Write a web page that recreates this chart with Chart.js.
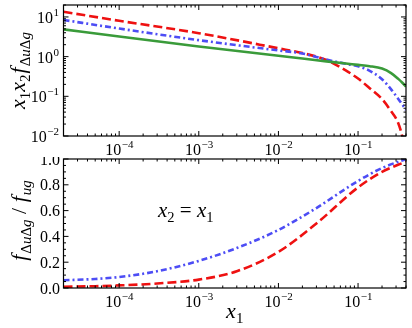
<!DOCTYPE html>
<html>
<head>
<meta charset="utf-8">
<script src="https://cdn.jsdelivr.net/npm/chart.js@4.4.0/dist/chart.umd.min.js"></script>
<style>
  html, body { margin: 0; padding: 0; background: #fff; }
  #wrap { position: relative; width: 412px; height: 328px; }
  canvas { position: absolute; left: 0; }
  #topChart { top: 0; }
  #botChart { top: 157px; }
  .warm { position: absolute; left: -1000px; top: 0; font-family: "Liberation Serif"; }
</style>
</head>
<body>
<span class="warm">10 <i>xf</i> ΔuΔg</span>
<div id="wrap">
  <canvas id="topChart" width="412" height="157"></canvas>
  <canvas id="botChart" width="412" height="171"></canvas>
</div>
<script>
// values
const xTop = [2e-5, 1e-4, 1e-3, 1e-2, 0.02, 0.04, 0.07, 0.1, 0.14, 0.2, 0.26, 0.32, 0.36, 0.4];
const redTop = [13.5, 8.0, 3.9, 1.62, 1.23, 0.82, 0.45, 0.28, 0.16, 0.085, 0.042, 0.021, 0.0095, 0.003];
const blueTop = [8.4, 5.1, 2.6, 1.43, 1.2, 0.84, 0.66, 0.57, 0.44, 0.27, 0.15, 0.086, 0.062, 0.045];
const greenTop = [4.87, 3.2, 1.8, 1.05, 0.9, 0.76, 0.67, 0.62, 0.575, 0.5, 0.385, 0.275, 0.22, 0.175];

const xBot = [2e-5, 5e-5, 1e-4, 3e-4, 1e-3, 3e-3, 0.01, 0.03, 0.1, 0.2, 0.4];
const blueBot = [0.06, 0.07, 0.085, 0.13, 0.21, 0.31, 0.45, 0.62, 0.83, 0.93, 1.0];
const redBot = [0.01, 0.014, 0.02, 0.035, 0.065, 0.13, 0.28, 0.50, 0.78, 0.90, 0.98];

const xExps = [-4, -3, -2, -1];        // x tick labels, 10^n
const yTopExps = [1, 0, -1, -2];       // top y tick labels, 10^n
const yBotTicks = [0, 0.2, 0.4, 0.6, 0.8, 1.0];

const RED = "#ee1111";
const BLUE = "#4d4df5";
const GREEN = "#3a9b3a";
const FONT = '"Liberation Serif", "DejaVu Serif", serif';

function series(xs, ys, color, dash) {
  return {
    data: xs.map((x, i) => ({ x, y: ys[i] })),
    borderColor: color,
    borderWidth: 2.6,
    borderDash: dash,
    pointRadius: 0,
    fill: false,
    cubicInterpolationMode: "monotone",
    clip: 0
  };
}

function logTicks(min, max) {
  const out = [];
  for (let e = Math.floor(Math.log10(min)); e <= Math.ceil(Math.log10(max)); e++) {
    for (let m = 1; m <= 9; m++) {
      const v = m * Math.pow(10, e);
      if (v >= min * 0.999 && v <= max * 1.001) out.push({ v, major: m === 1 });
    }
  }
  return out;
}

function linTicks(min, max, step, majorEvery) {
  const out = [];
  const n = Math.round((max - min) / step);
  for (let i = 0; i <= n; i++) out.push({ v: min + i * step, major: i % majorEvery === 0 });
  return out;
}

function pow10(ctx, exp, x, y, align) {
  const sup = exp < 0 ? "\u2212" + (-exp) : String(exp);
  ctx.font = "16px " + FONT;
  const wb = ctx.measureText("10").width;
  ctx.font = "11px " + FONT;
  const ws = ctx.measureText(sup).width;
  const x0 = align === "right" ? x - wb - ws - 0.5 : x - (wb + ws) / 2;
  ctx.textAlign = "left";
  ctx.textBaseline = "alphabetic";
  ctx.font = "16px " + FONT;
  ctx.fillText("10", x0, y);
  ctx.font = "11px " + FONT;
  ctx.fillText(sup, x0 + wb + 0.5, y - 7);
}

// runs: [text, font, dy, extra gap]
function mathText(ctx, runs, x, y, align) {
  let w = 0;
  runs.forEach(r => { ctx.font = r[1]; w += ctx.measureText(r[0]).width + (r[3] || 0); });
  let cx = align === "center" ? x - w / 2 : x;
  ctx.textAlign = "left";
  ctx.textBaseline = "alphabetic";
  runs.forEach(r => {
    ctx.font = r[1];
    ctx.fillText(r[0], cx, y + r[2]);
    cx += ctx.measureText(r[0]).width + (r[3] || 0);
  });
}

const BIG = "italic 22px " + FONT;
const BIGR = "22px " + FONT;
const SUB = "italic 15px " + FONT;
const SUBR = "15px " + FONT;

function axesPlugin(cfg) {
  return {
    id: "axesDeco",
    afterDraw(chart) {
      const ctx = chart.ctx;
      const a = chart.chartArea;
      const xs = chart.scales.x, ys = chart.scales.y;
      ctx.save();
      ctx.strokeStyle = "#000";
      ctx.fillStyle = "#000";
      ctx.lineWidth = 1;
      ctx.beginPath();
      cfg.xTicks.forEach(t => {
        const p = xs.getPixelForValue(t.v);
        const len = t.major ? 5 : 2.5;
        ctx.moveTo(p, a.bottom); ctx.lineTo(p, a.bottom - len);
        ctx.moveTo(p, a.top); ctx.lineTo(p, a.top + len);
      });
      cfg.yTicks.forEach(t => {
        const p = ys.getPixelForValue(t.v);
        const len = t.major ? 5 : 2.5;
        ctx.moveTo(a.left, p); ctx.lineTo(a.left + len, p);
        ctx.moveTo(a.right, p); ctx.lineTo(a.right - len, p);
      });
      ctx.stroke();
      ctx.lineWidth = 1.2;
      ctx.strokeRect(a.left, a.top, a.right - a.left, a.bottom - a.top);

      xExps.forEach(e => pow10(ctx, e, xs.getPixelForValue(Math.pow(10, e)), a.bottom + 19, "center"));
      cfg.drawYLabels(ctx, ys, a);
      cfg.drawTitles(ctx, a, ys);
      ctx.restore();
    }
  };
}

const topCfg = {
  xTicks: logTicks(2e-5, 0.4),
  yTicks: logTicks(0.01, 20),
  drawYLabels(ctx, ys) {
    yTopExps.forEach(e => pow10(ctx, e, 59, ys.getPixelForValue(Math.pow(10, e)) + 6, "right"));
  },
  drawTitles(ctx, a) {
    ctx.save();
    ctx.translate(25, (a.top + a.bottom) / 2);
    ctx.rotate(-Math.PI / 2);
    mathText(ctx, [
      ["x", BIG, 0], ["1", SUBR, 4.5],
      ["x", BIG, 0], ["2", SUBR, 4.5, 1],
      ["f", BIG, 0, 1],
      ["\u0394", SUBR, 5], ["u", SUB, 5], ["\u0394", SUBR, 5], ["g", SUB, 5]
    ], 0, 0, "center");
    ctx.restore();
  }
};

const botCfg = {
  xTicks: logTicks(2e-5, 0.4),
  yTicks: linTicks(0, 1, 0.05, 4),
  drawYLabels(ctx, ys) {
    ctx.font = "16px " + FONT;
    ctx.textAlign = "right";
    ctx.textBaseline = "alphabetic";
    yBotTicks.forEach(v => ctx.fillText(v.toFixed(1), 60, ys.getPixelForValue(v) + 5.5));
  },
  drawTitles(ctx, a) {
    ctx.save();
    ctx.translate(26, (a.top + a.bottom) / 2 - 3);
    ctx.rotate(-Math.PI / 2);
    mathText(ctx, [
      ["f", BIG, 0, 1],
      ["\u0394", SUBR, 5], ["u", SUB, 5], ["\u0394", SUBR, 5], ["g", SUB, 5],
      [" / ", BIGR, 0],
      ["f", BIG, 0, 1],
      ["ug", SUB, 5]
    ], 0, 0, "center");
    ctx.restore();
    mathText(ctx, [["x", BIG, 0], ["1", SUBR, 4.5]], (a.left + a.right) / 2, 161, "center");
    const ax = a.left + 0.276 * (a.right - a.left);
    const ay = a.top + 0.45 * (a.bottom - a.top);
    mathText(ctx, [
      ["x", "italic 21px " + FONT, 0], ["2", "14.5px " + FONT, 4.5],
      [" = ", "21px " + FONT, 0],
      ["x", "italic 21px " + FONT, 0], ["1", "14.5px " + FONT, 4.5]
    ], ax, ay, "left");
  }
};

const common = {
  responsive: false,
  animation: false,
  devicePixelRatio: 1,
  plugins: { legend: { display: false }, tooltip: { enabled: false } }
};

function drawCharts() {
  new Chart(document.getElementById("topChart").getContext("2d"), {
    type: "line",
    data: {
      datasets: [
        series(xTop, greenTop, GREEN, []),
        series(xTop, blueTop, BLUE, [6, 3, 2, 3]),
        series(xTop, redTop, RED, [9, 4])
      ]
    },
    options: {
      ...common,
      layout: { padding: { left: 63.5, right: 6, top: 5, bottom: 21 } },
      scales: {
        x: { type: "logarithmic", min: 2e-5, max: 0.4, display: false },
        y: { type: "logarithmic", min: 0.01, max: 20, display: false }
      }
    },
    plugins: [axesPlugin(topCfg)]
  });

  new Chart(document.getElementById("botChart").getContext("2d"), {
    type: "line",
    data: {
      datasets: [
        series(xBot, blueBot, BLUE, [6, 3, 2, 3]),
        series(xBot, redBot, RED, [9, 4])
      ]
    },
    options: {
      ...common,
      layout: { padding: { left: 63.5, right: 6, top: 2, bottom: 40 } },
      scales: {
        x: { type: "logarithmic", min: 2e-5, max: 0.4, display: false },
        y: { type: "linear", min: 0, max: 1, display: false }
      }
    },
    plugins: [axesPlugin(botCfg)]
  });
}

Promise.all([
  document.fonts.load('16px "Liberation Serif"'),
  document.fonts.load('italic 22px "Liberation Serif"')
]).catch(() => {}).then(drawCharts);
</script>
</body>
</html>
